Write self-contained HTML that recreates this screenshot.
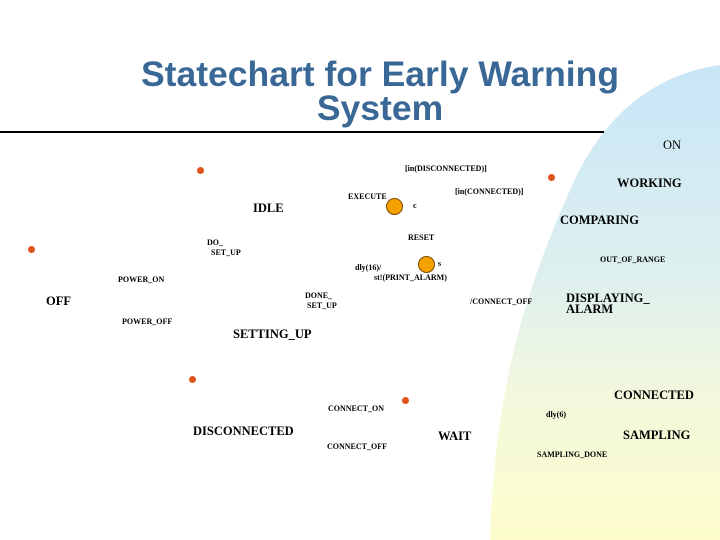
<!DOCTYPE html>
<html><head><meta charset="utf-8"><style>
body{margin:0;width:720px;height:540px;overflow:hidden;background:#fff;position:relative;font-family:"Liberation Serif",serif}
.t{position:absolute;white-space:nowrap;color:#000;line-height:1}
.b{font-weight:bold;font-size:12.5px}
.s{font-size:8px;font-weight:bold}
.dot{position:absolute;width:7px;height:7px;border-radius:50%;background:#e0541c}
.big{position:absolute;width:15px;height:15px;border-radius:50%;background:#f5a100;border:1px solid #7a4a00}
</style></head><body>
<svg width="720" height="540" style="position:absolute;left:0;top:0">
<defs><linearGradient id="g" x1="0" y1="0" x2="0" y2="1">
<stop offset="0" stop-color="#c8e6f8"/><stop offset="0.45" stop-color="#def0ee"/><stop offset="0.7" stop-color="#f2f8dc"/><stop offset="1" stop-color="#fdfdcc"/></linearGradient></defs>
<path d="M720,65 C650,75 600,120 570,190 C530,280 495,380 490,540 L720,540 Z" fill="url(#g)"/>
<line x1="0" y1="132" x2="604" y2="132" stroke="#000" stroke-width="2"/>
</svg>
<div class="t" style="left:100px;top:57px;width:560px;text-align:center;font-family:'Liberation Sans',sans-serif;font-weight:bold;font-size:35.5px;color:#3a6896;line-height:34px">Statechart for Early Warning<br>System</div>
<div class="t b" style="left:663px;top:139px;font-weight:normal">ON</div>
<div class="t b" style="left:617px;top:177px">WORKING</div>
<div class="t b" style="left:253px;top:202px">IDLE</div>
<div class="t b" style="left:560px;top:214px">COMPARING</div>
<div class="t b" style="left:46px;top:295px">OFF</div>
<div class="t b" style="left:566px;top:293px;line-height:11px">DISPLAYING_<br>ALARM</div>
<div class="t b" style="left:233px;top:328px">SETTING_UP</div>
<div class="t b" style="left:614px;top:389px">CONNECTED</div>
<div class="t b" style="left:193px;top:425px">DISCONNECTED</div>
<div class="t b" style="left:438px;top:430px">WAIT</div>
<div class="t b" style="left:623px;top:429px">SAMPLING</div>
<div class="t s" style="left:405px;top:165px">[in(DISCONNECTED)]</div>
<div class="t s" style="left:455px;top:188px">[in(CONNECTED)]</div>
<div class="t s" style="left:348px;top:193px">EXECUTE</div>
<div class="t s" style="left:413px;top:202px">c</div>
<div class="t s" style="left:408px;top:234px">RESET</div>
<div class="t s" style="left:207px;top:238px;line-height:10px">DO_<br>&nbsp;&nbsp;SET_UP</div>
<div class="t s" style="left:600px;top:256px">OUT_OF_RANGE</div>
<div class="t s" style="left:438px;top:260px">s</div>
<div class="t s" style="left:355px;top:264px">dly(16)/</div>
<div class="t s" style="left:374px;top:274px">st!(PRINT_ALARM)</div>
<div class="t s" style="left:118px;top:276px">POWER_ON</div>
<div class="t s" style="left:305px;top:291px;line-height:10px">DONE_<br>&nbsp;SET_UP</div>
<div class="t s" style="left:470px;top:298px">/CONNECT_OFF</div>
<div class="t s" style="left:122px;top:318px">POWER_OFF</div>
<div class="t s" style="left:328px;top:405px">CONNECT_ON</div>
<div class="t s" style="left:546px;top:411px">dly(6)</div>
<div class="t s" style="left:327px;top:443px">CONNECT_OFF</div>
<div class="t s" style="left:537px;top:451px">SAMPLING_DONE</div>
<div class="dot" style="left:197px;top:167px"></div>
<div class="dot" style="left:548px;top:174px"></div>
<div class="dot" style="left:28px;top:246px"></div>
<div class="dot" style="left:189px;top:376px"></div>
<div class="dot" style="left:402px;top:397px"></div>
<div class="big" style="left:386px;top:198px"></div>
<div class="big" style="left:418px;top:256px"></div>
</body></html>
